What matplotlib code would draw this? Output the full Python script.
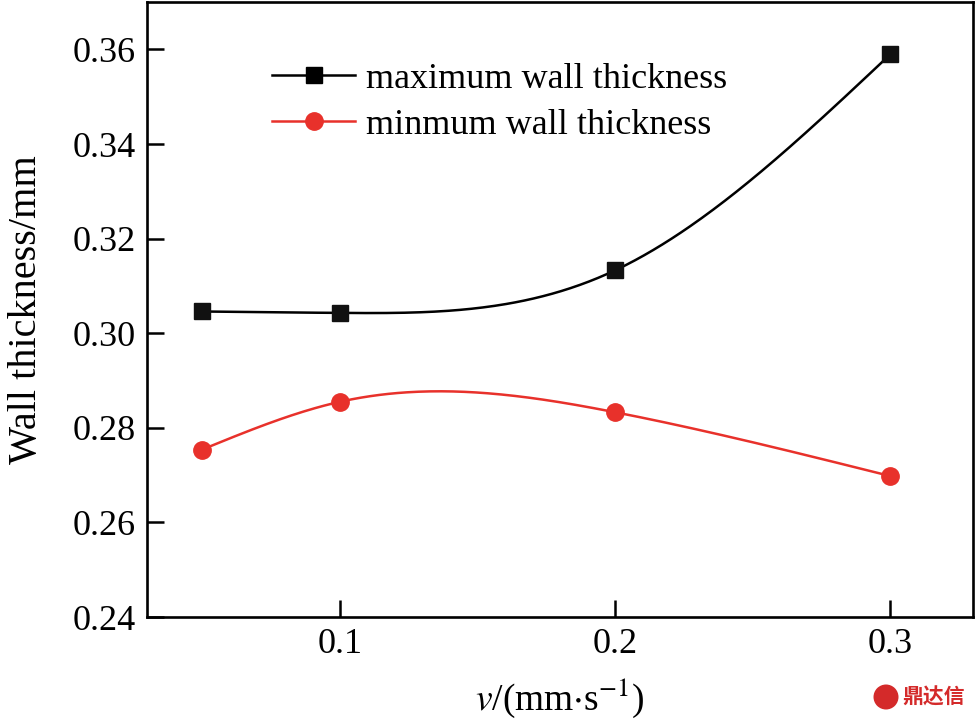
import numpy as np
import matplotlib
matplotlib.use("Agg")
import matplotlib.pyplot as plt
from matplotlib.patches import Ellipse

speed = [0.05, 0.1, 0.2, 0.3]
max_thick = [0.3046, 0.3043, 0.3133, 0.3590]
min_thick = [0.2754, 0.2855, 0.2833, 0.2698]
x_ticks = [0.1, 0.2, 0.3]
y_ticks = [0.24, 0.26, 0.28, 0.30, 0.32, 0.34, 0.36]


def natural_spline(x, y, n=300):
    # plain natural cubic spline, like the smooth line in Origin
    x = np.asarray(x, float)
    y = np.asarray(y, float)
    k = len(x)
    h = np.diff(x)
    A = np.zeros((k, k))
    b = np.zeros(k)
    A[0, 0] = 1
    A[-1, -1] = 1
    for i in range(1, k - 1):
        A[i, i - 1] = h[i - 1]
        A[i, i] = 2 * (h[i - 1] + h[i])
        A[i, i + 1] = h[i]
        b[i] = 3 * ((y[i + 1] - y[i]) / h[i] - (y[i] - y[i - 1]) / h[i - 1])
    c = np.linalg.solve(A, b)
    xs = np.linspace(x[0], x[-1], n)
    ys = np.empty_like(xs)
    for j, xv in enumerate(xs):
        i = min(np.searchsorted(x, xv, side="right") - 1, k - 2)
        d = (c[i + 1] - c[i]) / (3 * h[i])
        bb = (y[i + 1] - y[i]) / h[i] - h[i] * (2 * c[i] + c[i + 1]) / 3
        t = xv - x[i]
        ys[j] = y[i] + bb * t + c[i] * t ** 2 + d * t ** 3
    return xs, ys


plt.rcParams["font.family"] = ["Liberation Serif", "DejaVu Serif"]
plt.rcParams["mathtext.fontset"] = "stix"

fig = plt.figure(figsize=(9.76, 7.22), dpi=100)
ax = fig.add_axes([0.1506, 0.1454, 0.8464, 0.8516])

red = "#e8312b"
xs, ys = natural_spline(speed, max_thick)
ax.plot(xs, ys, color="black", lw=1.8)
ax.plot(speed, max_thick, "s", color="#111111", ms=11)
xs, ys = natural_spline(speed, min_thick)
ax.plot(xs, ys, color=red, lw=1.8)
ax.plot(speed, min_thick, "o", color=red, ms=12.5)

# legend handles with line through the marker
ax.plot([], [], "-s", color="black", lw=1.8, ms=11, label="maximum wall thickness")
ax.plot([], [], "-o", color=red, lw=1.8, ms=12.5, label="minmum wall thickness")
ax.legend(loc="upper left", bbox_to_anchor=(0.112, 0.955), frameon=False,
          fontsize=26, handlelength=2.3, handletextpad=0.3, labelspacing=0.35)

ax.set_xlim(0.03, 0.33)
ax.set_ylim(0.24, 0.37)
ax.set_xticks(x_ticks)
ax.set_xticklabels([f"{v:.1f}" for v in x_ticks])
ax.set_yticks(y_ticks)
ax.set_yticklabels([f"{v:.2f}" for v in y_ticks])
ax.tick_params(direction="in", length=12, width=1.8, labelsize=26, pad=8,
               top=False, right=False)
for s in ax.spines.values():
    s.set_linewidth(1.9)

ax.set_ylabel("Wall thickness/mm", fontsize=29, labelpad=20)
ax.set_xlabel(r"$\mathit{v}$/(mm$\cdot$s$^{-1}$)", fontsize=27, labelpad=11)

# watermark at the lower right
fig.patches.append(Ellipse((886 / 976, 1 - 697 / 722), 25 / 976, 25 / 722,
                           transform=fig.transFigure,
                           facecolor="#d42a2a", edgecolor="none"))
fig.text(902 / 976, 1 - 697 / 722, "鼎达信", color="#d42a2a", fontsize=15,
         ha="left", va="center", family=["Noto Sans CJK SC", "DejaVu Sans"],
         weight="bold")

fig.savefig("out.png", dpi=100)
